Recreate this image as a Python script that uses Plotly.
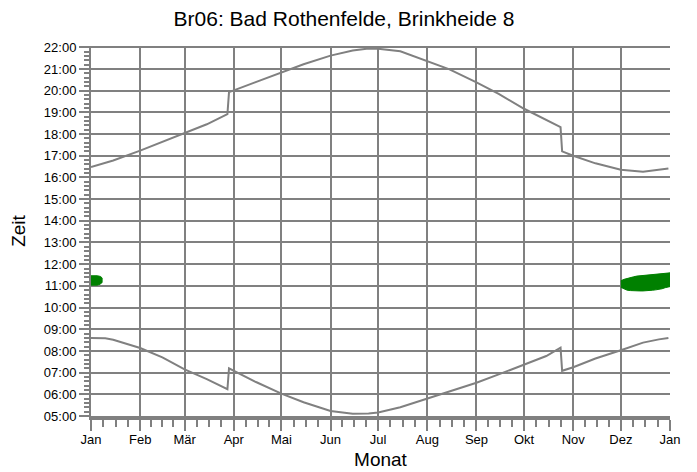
import datetime as dt
import plotly.graph_objects as go

# ---- data (local time, HH:MM) ----
sunset_dates = ["01-01", "01-15", "02-01", "02-15", "03-01", "03-15", "03-28",
                "03-29", "04-01", "04-15", "05-01", "05-15", "06-01", "06-15",
                "06-25", "07-01", "07-15", "08-01", "08-15", "09-01", "09-15",
                "10-01", "10-15", "10-24", "10-25", "11-01", "11-15", "12-01",
                "12-15", "12-31"]
sunset_times = ["16:29", "16:47", "17:14", "17:38", "18:04", "18:27", "18:55",
                "19:56", "20:01", "20:24", "20:51", "21:13", "21:37", "21:51",
                "21:57", "21:56", "21:49", "21:22", "20:59", "20:23", "19:51",
                "19:10", "18:40", "18:19", "17:12", "17:00", "16:39", "16:21",
                "16:16", "16:25"]

sunrise_dates = ["01-01", "01-10", "01-15", "02-01", "02-15", "03-01", "03-15",
                 "03-28", "03-29", "04-01", "04-15", "05-01", "05-15", "06-01",
                 "06-15", "06-25", "07-01", "07-15", "08-01", "08-15", "09-01",
                 "09-15", "10-01", "10-15", "10-24", "10-25", "11-01", "11-15",
                 "12-01", "12-15", "12-25", "12-31"]
sunrise_times = ["08:36", "08:35", "08:31", "08:08", "07:42", "07:09", "06:42",
                 "06:14", "07:12", "07:05", "06:34", "06:02", "05:38", "05:14",
                 "05:06", "05:07", "05:10", "05:24", "05:48", "06:09", "06:32",
                 "06:55", "07:23", "07:46", "08:09", "07:05", "07:15", "07:39",
                 "08:02", "08:23", "08:32", "08:36"]

# shadow periods (start / end of shading per day)
jan_dates = ["01-01", "01-03", "01-05", "01-07", "01-08"]
jan_start = ["11:02", "11:01", "11:02", "11:05", "11:10"]
jan_end = ["11:28", "11:29", "11:28", "11:26", "11:22"]

dec_dates = ["12-01", "12-03", "12-05", "12-07", "12-09", "12-11", "12-13",
             "12-15", "12-17", "12-19", "12-21", "12-23", "12-25", "12-27",
             "12-29", "12-31"]
dec_start = ["10:56", "10:51", "10:48", "10:47", "10:46", "10:46", "10:46",
             "10:46", "10:46", "10:47", "10:48", "10:49", "10:50", "10:52",
             "10:55", "10:58"]
dec_end = ["11:14", "11:18", "11:21", "11:23", "11:25", "11:27", "11:29",
           "11:30", "11:30", "11:31", "11:32", "11:33", "11:33", "11:34",
           "11:35", "11:36"]

month_labels = ["Jan", "Feb", "Mär", "Apr", "Mai", "Jun", "Jul", "Aug",
                "Sep", "Okt", "Nov", "Dez", "Jan"]
hour_labels = ["%02d:00" % h for h in range(5, 23)]


def doy(s):
    m, d = map(int, s.split("-"))
    return (dt.date(2021, m, d) - dt.date(2021, 1, 1)).days


def hrs(s):
    h, m = map(int, s.split(":"))
    return h + m / 60.0


month_starts = [doy("%02d-01" % m) for m in range(1, 13)] + [365]
minor_vals = []
for a, b in zip(month_starts[:-1], month_starts[1:]):
    minor_vals += [a + (b - a) * k / 4.0 for k in (1, 2, 3)]

GRAY = "#808080"
GREEN = "#008000"

fig = go.Figure()

fig.add_trace(go.Scatter(
    x=[doy(d) for d in sunset_dates], y=[hrs(t) for t in sunset_times],
    mode="lines", line=dict(color=GRAY, width=2), showlegend=False,
    hoverinfo="skip"))
fig.add_trace(go.Scatter(
    x=[doy(d) for d in sunrise_dates], y=[hrs(t) for t in sunrise_times],
    mode="lines", line=dict(color=GRAY, width=2), showlegend=False,
    hoverinfo="skip"))

for dates, st, en, last in [(jan_dates, jan_start, jan_end, None),
                            (dec_dates, dec_start, dec_end, 365)]:
    xs = [doy(d) for d in dates]
    if last is not None:
        xs[-1] = last
    ys0 = [hrs(t) for t in st]
    ys1 = [hrs(t) for t in en]
    fig.add_trace(go.Scatter(
        x=xs + xs[::-1], y=ys0 + ys1[::-1], mode="lines", fill="toself",
        fillcolor=GREEN, line=dict(color=GREEN, width=1), showlegend=False,
        hoverinfo="skip"))

# page body has an 8 px default margin, so the figure is 8 px smaller
fig.update_layout(
    width=689, height=464,
    margin=dict(l=83, r=27, t=38, b=56, autoexpand=False),
    paper_bgcolor="white", plot_bgcolor="white",
    font=dict(family="Liberation Sans, Arial, sans-serif", color="#000000"),
    title=dict(text="Br06: Bad Rothenfelde, Brinkheide 8",
               x=0.4877, xanchor="center", xref="container",
               y=0.978, yanchor="middle", yref="container",
               font=dict(size=21, color="#000000")),
)

fig.update_xaxes(
    range=[0, 365], automargin=False,
    tickmode="array", tickvals=month_starts, ticktext=month_labels,
    tickfont=dict(size=13), ticks="outside", ticklen=11, tickwidth=2,
    tickcolor=GRAY, ticklabelstandoff=-3,
    showgrid=True, gridcolor=GRAY, gridwidth=2,
    showline=True, linecolor=GRAY, linewidth=4, zeroline=False,
    minor=dict(tickmode="array", tickvals=minor_vals, ticks="outside",
               ticklen=7, tickwidth=2, tickcolor=GRAY, showgrid=False),
    title=dict(text="Monat", font=dict(size=19), standoff=8),
)

fig.update_yaxes(
    range=[5, 22.06], automargin=False,
    tickmode="array", tickvals=list(range(5, 23)), ticktext=hour_labels,
    tickfont=dict(size=13), ticks="outside", ticklen=10, tickwidth=2,
    tickcolor=GRAY,
    showgrid=True, gridcolor=GRAY, gridwidth=2,
    showline=True, linecolor=GRAY, linewidth=2, zeroline=False,
    minor=dict(dtick=0.2, tick0=5, ticks="outside", ticklen=5, tickwidth=2,
               tickcolor=GRAY, showgrid=False),
    title=dict(text="Zeit", font=dict(size=19), standoff=14),
)

fig.write_html("out.html")
